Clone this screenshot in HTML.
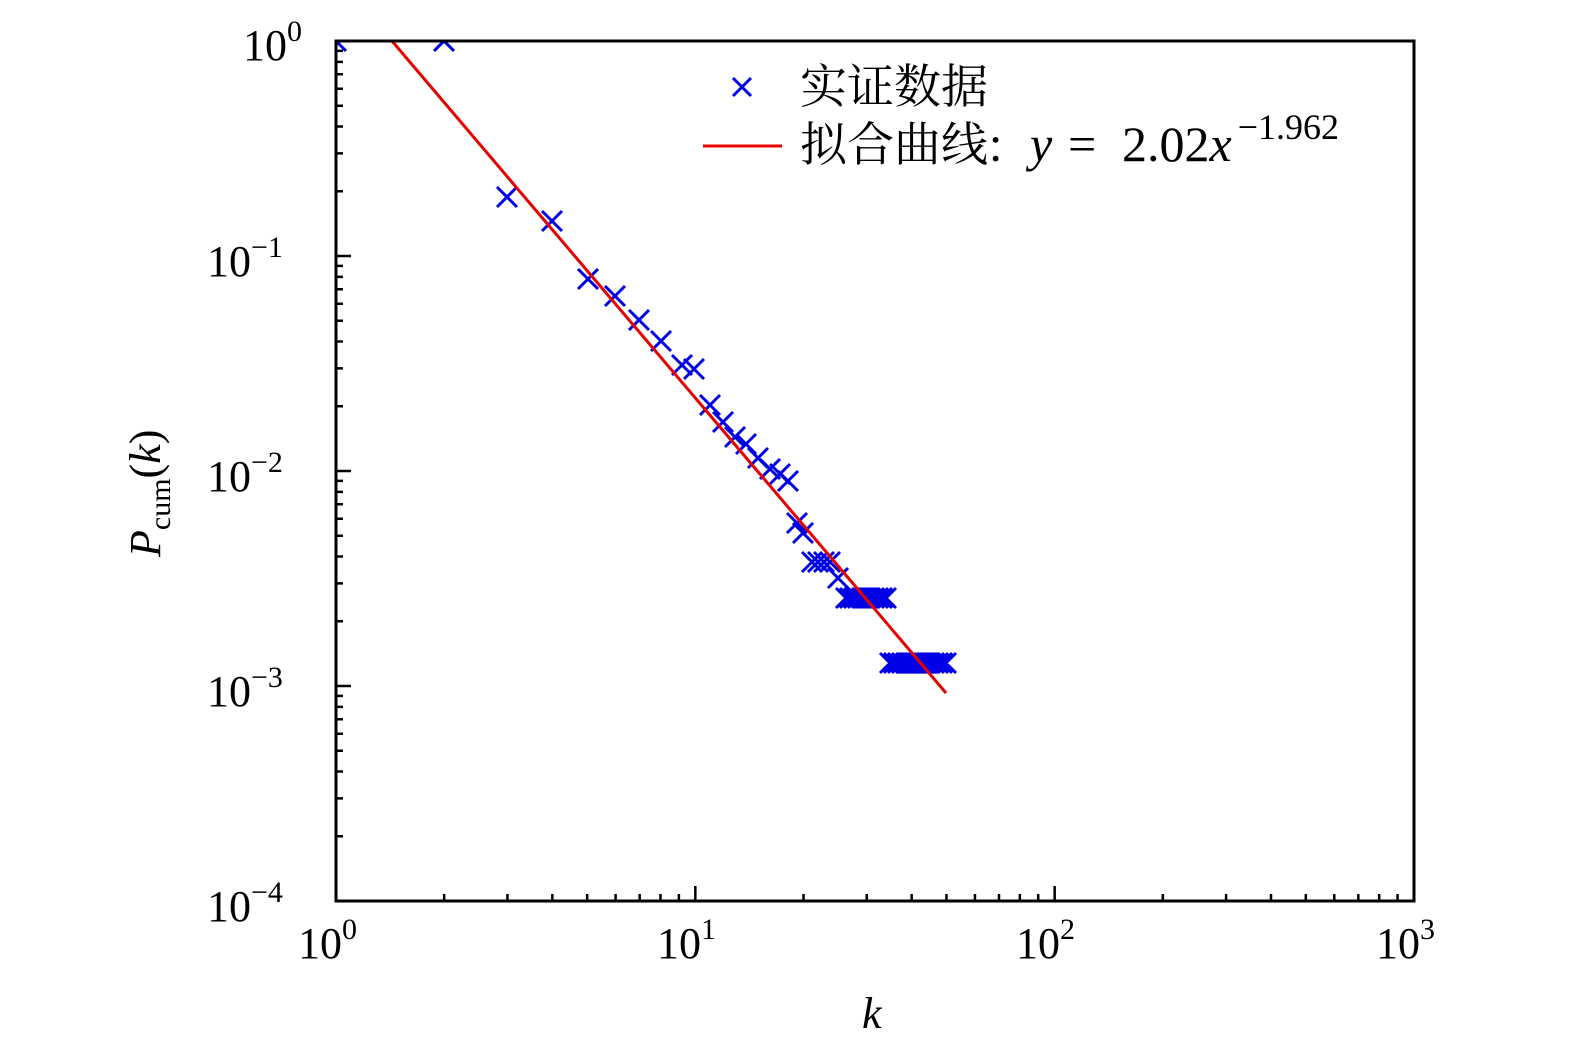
<!DOCTYPE html>
<html><head><meta charset="utf-8"><style>
html,body{margin:0;padding:0;background:#fff;}
svg{display:block}
text{font-family:"Liberation Serif","Noto Serif CJK SC",serif;fill:#000}
</style></head><body>
<svg id="s" width="1575" height="1053" viewBox="0 0 1575 1053" xmlns="http://www.w3.org/2000/svg">
<defs><clipPath id="c"><rect x="336" y="41" width="1078" height="860"/></clipPath></defs>
<g id="marks" clip-path="url(#c)" stroke="#0000e6" stroke-width="3" fill="none"></g>
<line x1="392" y1="41" x2="946" y2="693" stroke="#e60000" stroke-width="3" clip-path="url(#c)"/>
<g id="ticks" stroke="#000" stroke-width="2.5"></g>
<rect x="336" y="41" width="1078" height="860" fill="none" stroke="#000" stroke-width="3"/>
<g font-size="44">
<text x="298" y="958" >10<tspan font-size="30" dy="-19">0</tspan></text>
<text x="657" y="958" >10<tspan font-size="30" dy="-19">1</tspan></text>
<text x="1016" y="958" >10<tspan font-size="30" dy="-19">2</tspan></text>
<text x="1376" y="958" >10<tspan font-size="30" dy="-19">3</tspan></text>
<text x="243" y="60">10<tspan font-size="30" dy="-19">0</tspan></text>
<text x="207" y="276">10<tspan font-size="30" dy="-19">−1</tspan></text>
<text x="207" y="491">10<tspan font-size="30" dy="-19">−2</tspan></text>
<text x="207" y="706">10<tspan font-size="30" dy="-19">−3</tspan></text>
<text x="207" y="921">10<tspan font-size="30" dy="-19">−4</tspan></text>
<text x="862" y="1028" font-style="italic">k</text>
<text transform="translate(160,557) rotate(-90)"><tspan font-style="italic">P</tspan><tspan font-size="30" dy="10">cum</tspan><tspan dy="-10">(</tspan><tspan font-style="italic">k</tspan>)</text>
<text x="800" y="103" font-family="Noto Serif CJK SC, serif" font-size="47">实证数据</text>
<text x="800" y="161"><tspan font-family="Noto Serif CJK SC, serif" font-size="47">拟合曲线:</tspan></text>
<text y="161" font-size="50"><tspan x="1030" font-style="italic">y</tspan><tspan x="1068">=</tspan><tspan x="1122">2.02</tspan><tspan font-style="italic">x</tspan><tspan font-size="36" dy="-22" dx="6">−1.962</tspan></text>
</g>
<line x1="703" y1="146" x2="782" y2="146" stroke="#e60000" stroke-width="3"/>
<path d="M733 78 L751 96 M751 78 L733 96" stroke="#0000e6" stroke-width="3"/>
</svg>
<script>
var NS="http://www.w3.org/2000/svg";
var m=document.getElementById("marks"),d="";
var pts=[[336,41],[444,41],[507,197],[552,221],[588,279],[615,296],[639,320],[661,341],[682,365],[694,369],[710,405],[723,422],[735,437],[746,444],[758,458],[770,469],[780,474],[788,481],[797,523],[803,533],[812,562],[818,562],[824,562],[830,562],[838,578]];
for(var x=846;x<=886;x+=4)pts.push([x,598]);
for(var x=890;x<=946;x+=4)pts.push([x,663]);
pts.forEach(function(p){var s=10;d+="M"+(p[0]-s)+" "+(p[1]-s)+"L"+(p[0]+s)+" "+(p[1]+s)+"M"+(p[0]+s)+" "+(p[1]-s)+"L"+(p[0]-s)+" "+(p[1]+s);});
var pa=document.createElementNS(NS,"path");pa.setAttribute("d",d);m.appendChild(pa);
var t="",g=document.getElementById("ticks");
for(var e=0;e<3;e++)for(var i=1;i<10;i++){var x=336+359.33*(e+Math.log10(i));var L=i==1?15:7;t+="M"+x+" 901V"+(901-L);}
for(var e=0;e<4;e++)for(var i=1;i<10;i++){var y=901-215*(e+Math.log10(i));var L=i==1?15:7;t+="M336 "+y+"H"+(336+L);}
var tp=document.createElementNS(NS,"path");tp.setAttribute("d",t);g.appendChild(tp);
</script>
</body></html>
